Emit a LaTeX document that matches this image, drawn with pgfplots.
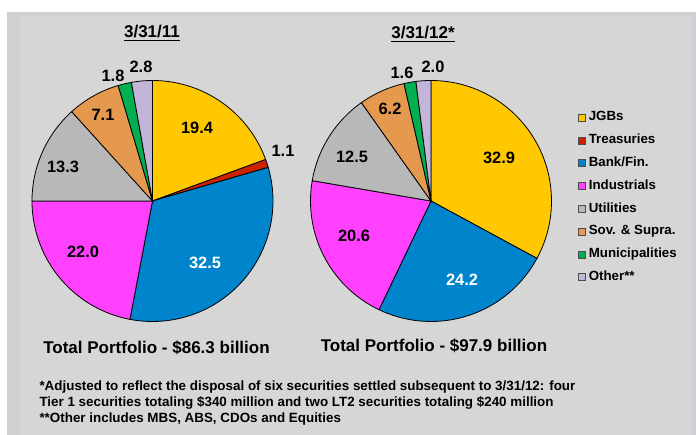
\documentclass[border=0pt]{standalone}
\usepackage{fontspec}
\setmainfont{Liberation Sans}
\usepackage{pgfplots}
\usepackage{pgfplotstable}
\pgfplotsset{compat=1.18}

\definecolor{cJGB}{HTML}{FFC800}
\definecolor{cTre}{HTML}{CC2200}
\definecolor{cBank}{HTML}{0084CC}
\definecolor{cInd}{HTML}{FF40FF}
\definecolor{cUtil}{HTML}{B8B8B8}
\definecolor{cSov}{HTML}{E5994F}
\definecolor{cMuni}{HTML}{00B050}
\definecolor{cOth}{HTML}{C3B4DA}
\definecolor{panelA}{HTML}{CFD0D3}
\definecolor{panelB}{HTML}{D6D6D6}

% portfolio shares in %
\pgfplotstableread{
col    mar11  mar12
cJGB   19.4   32.9
cTre   1.1    0.0
cBank  32.5   24.2
cInd   22.0   20.6
cUtil  13.3   12.5
cSov   7.1    6.2
cMuni  1.8    1.6
cOth   2.8    2.0
}\portfolio

% #1 column, #2 cx, #3 cy, #4 extra options
\newcommand{\drawpie}[4]{%
  \def\cum{0}%
  \pgfplotsforeachungrouped \i in {0,...,7}{%
    \pgfplotstablegetelem{\i}{#1}\of\portfolio
    \let\sliceval\pgfplotsretval
    \pgfplotstablegetelem{\i}{col}\of\portfolio
    \let\slicecol\pgfplotsretval
    \pgfmathsetmacro\angA{90-3.6*(\cum+\sliceval)}%
    \pgfmathsetmacro\angB{90-3.6*\cum}%
    \pgfmathsetmacro\cum{\cum+\sliceval}%
    \ifdim\sliceval pt>0pt
      \edef\doslice{\noexpand\addplot[fill=\slicecol, draw=black, line width=0.8bp,
        domain=\angA:\angB, samples=60, #4]
        ({#2+120.5*cos(x)}, {#3-120.5*sin(x)}) -- (axis cs:#2,#3) -- cycle;}%
      \doslice
    \fi
  }%
}

\newcommand{\lbl}{\fontsize{16.4bp}{19bp}\bfseries\selectfont}
\newcommand{\ttl}{\fontsize{17bp}{20bp}\bfseries\selectfont}
\newcommand{\fnt}{\fontsize{13.4bp}{16bp}\bfseries\selectfont}

\begin{document}
\begin{tikzpicture}
\begin{axis}[
  x=1bp, y=1bp,
  xmin=0, xmax=696, ymin=0, ymax=435,
  y dir=reverse,
  hide axis, scale only axis, clip=false,
  legend cell align=left,
  legend image code/.code={\draw[#1, line width=0.6bp, draw=black!70] (0bp,-3.5bp) rectangle (7bp,3.5bp);},
  legend style={at={(axis cs:578,111.2)}, anchor=north west, draw=none, fill=none,
    inner sep=0pt, row sep=10.3bp, column sep=3bp,
    font=\fontsize{13.3bp}{16bp}\bfseries\selectfont,
    nodes={text height=9.5bp, text depth=3bp, inner sep=0pt}},
]
% background panels
\addplot[fill=white, draw=none, forget plot] coordinates {(0,0) (696,0) (696,435) (0,435)} -- cycle;
\addplot[fill=panelA, draw=none, forget plot] coordinates {(7,12) (696,12) (696,435) (7,435)} -- cycle;
\addplot[fill=panelB, draw=none, forget plot] coordinates {(20,16) (692,16) (692,435) (20,435)} -- cycle;

\drawpie{mar11}{152.5}{201}{}
\drawpie{mar12}{431}{201}{forget plot}

\legend{JGBs, Treasuries, Bank/Fin., Industrials, Utilities, Sov. \& Supra., Municipalities, Other**}

% titles
\node[anchor=base, font=\ttl] at (axis cs:152,38) {\underline{3/31/11}};
\node[anchor=base, font=\ttl] at (axis cs:423,39) {\underline{3/31/12*}};

% slice labels, 3/31/11
\node[font=\lbl] at (axis cs:197,128) {19.4};
\node[font=\lbl] at (axis cs:283,151) {1.1};
\node[font=\lbl, text=white] at (axis cs:205,263) {32.5};
\node[font=\lbl] at (axis cs:83,252) {22.0};
\node[font=\lbl] at (axis cs:63,167) {13.3};
\node[font=\lbl] at (axis cs:103,115) {7.1};
\node[font=\lbl] at (axis cs:113,76) {1.8};
\node[font=\lbl] at (axis cs:141,67) {2.8};

% slice labels, 3/31/12
\node[font=\lbl] at (axis cs:499,158) {32.9};
\node[font=\lbl, text=white] at (axis cs:462,280) {24.2};
\node[font=\lbl] at (axis cs:354,236) {20.6};
\node[font=\lbl] at (axis cs:352,157) {12.5};
\node[font=\lbl] at (axis cs:390,109) {6.2};
\node[font=\lbl] at (axis cs:402,73) {1.6};
\node[font=\lbl] at (axis cs:433,67) {2.0};

% totals
\node[anchor=base, font=\ttl] at (axis cs:156.5,353) {Total Portfolio - \$86.3 billion};
\node[anchor=base, font=\ttl] at (axis cs:434,351) {Total Portfolio - \$97.9 billion};

% footnotes
\node[anchor=base west, font=\fnt] at (axis cs:36,390)
  {*Adjusted to reflect the disposal of six securities settled subsequent to 3/31/12: four};
\node[anchor=base west, font=\fnt] at (axis cs:36,406)
  {Tier 1 securities totaling \$340 million and two LT2 securities totaling \$240 million};
\node[anchor=base west, font=\fnt] at (axis cs:36,422)
  {**Other includes MBS, ABS, CDOs and Equities};
\end{axis}
\end{tikzpicture}
\end{document}
